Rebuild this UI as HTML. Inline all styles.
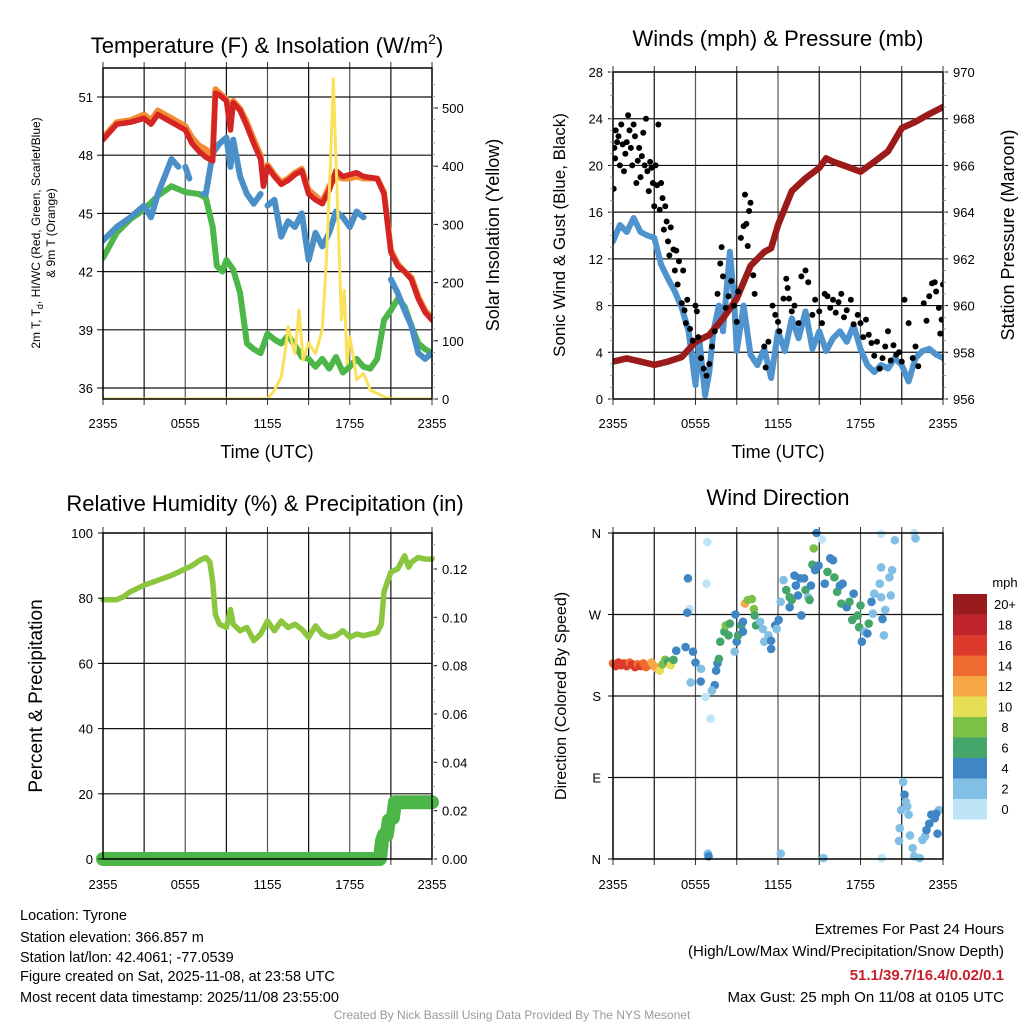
<!DOCTYPE html>
<html><head><meta charset="utf-8"><style>
html,body{margin:0;padding:0;background:#fff}
svg{display:block;font-family:"Liberation Sans",Arial,sans-serif}
</style></head><body>
<svg id="s" width="1024" height="1024" viewBox="0 0 1024 1024" xmlns="http://www.w3.org/2000/svg">
<rect width="1024" height="1024" fill="#fff"/>
<g id="layer"></g>
<text x="267" y="53" font-size="22" text-anchor="middle">Temperature (F) &amp; Insolation (W/m<tspan font-size="14" dy="-9">2</tspan><tspan dy="9">)</tspan></text>
<text x="778" y="46" font-size="22" text-anchor="middle">Winds (mph) &amp; Pressure (mb)</text>
<text x="265" y="511" font-size="22" text-anchor="middle">Relative Humidity (%) &amp; Precipitation (in)</text>
<text x="778" y="505" font-size="22" text-anchor="middle">Wind Direction</text>
<text x="267" y="458" font-size="18" text-anchor="middle">Time (UTC)</text>
<text x="778" y="458" font-size="18" text-anchor="middle">Time (UTC)</text>
<text transform="translate(40,233) rotate(-90)" font-size="12" text-anchor="middle">2m T, T<tspan font-size="9" dy="3">d</tspan><tspan dy="-3">, HI/WC (Red, Green, Scarlet/Blue)</tspan></text>
<text transform="translate(55,233) rotate(-90)" font-size="12" text-anchor="middle">&amp; 9m T (Orange)</text>
<text transform="translate(499,235) rotate(-90)" font-size="18" text-anchor="middle">Solar Insolation (Yellow)</text>
<text transform="translate(565,235) rotate(-90)" font-size="17" text-anchor="middle">Sonic Wind &amp; Gust (Blue, Black)</text>
<text transform="translate(1014,235) rotate(-90)" font-size="18" text-anchor="middle">Station Pressure (Maroon)</text>
<text transform="translate(42,696) rotate(-90)" font-size="19" text-anchor="middle">Percent &amp; Precipitation</text>
<text transform="translate(566,696) rotate(-90)" font-size="16" text-anchor="middle">Direction (Colored By Speed)</text>
<g font-size="14.5">
<text x="20" y="920">Location: Tyrone</text>
<text x="20" y="942">Station elevation: 366.857 m</text>
<text x="20" y="962">Station lat/lon: 42.4061; -77.0539</text>
<text x="20" y="981">Figure created on Sat, 2025-11-08, at 23:58 UTC</text>
<text x="20" y="1002">Most recent data timestamp: 2025/11/08 23:55:00</text>
</g>
<g font-size="15" text-anchor="end">
<text x="1004" y="934">Extremes For Past 24 Hours</text>
<text x="1004" y="956">(High/Low/Max Wind/Precipitation/Snow Depth)</text>
<text x="1004" y="980" fill="#c8202a" font-weight="bold">51.1/39.7/16.4/0.02/0.1</text>
<text x="1004" y="1002">Max Gust: 25 mph On 11/08 at 0105 UTC</text>
</g>
<text x="512" y="1019" font-size="12" fill="#999" text-anchor="middle">Created By Nick Bassill Using Data Provided By The NYS Mesonet</text>
</svg>
<script>
const tempHours=[0,1,2,3,3.5,4,5,6,6.5,7,7.5,8,8.2,8.5,9,9.3,9.5,10,10.5,11,11.5,11.7,12,12.5,13,13.5,14,14.5,15,15.5,16,16.5,17,17.5,18,18.5,19,20,20.5,21,21.5,22,22.5,23,23.5,24];
const tempRed=[48.8,49.6,49.7,49.9,49.6,50.1,49.7,49.3,48.6,48.2,47.9,47.7,51.2,51.1,50.8,49.3,50.7,50.3,49.5,48.6,47.8,46.4,47.4,46.9,46.5,46.7,47.0,47.2,46.0,45.7,45.5,46.2,47.2,46.9,47.0,47.1,46.9,46.8,46.0,43.0,42.3,42.0,41.6,40.6,39.9,39.5];
const temp9mOrange=[48.9,49.7,49.8,50.1,49.8,50.3,49.9,49.5,48.9,48.5,48.3,48.0,51.4,51.2,50.9,49.6,50.8,50.4,49.7,48.8,48.0,46.7,47.5,47.0,46.6,46.8,47.1,47.3,46.2,45.9,45.6,46.4,46.9,46.8,46.8,46.9,46.8,46.8,46.1,43.1,42.4,42.0,41.7,40.7,40.0,39.6];
const hiwcHours=[0,1,2,3,3.5,4,5,5.5,5.7,6,6.3,6.5,7.3,7.5,8,8.5,9,9.3,9.5,10,10.5,11,11.5,11.7,12,12.5,13,13.5,14,14.5,15,15.5,16,16.5,17,17.5,18,18.5,19,19.2,20.7,21,21.5,22,22.5,23,23.5,24];
const hiwcBlue=[43.6,44.3,44.8,45.4,44.8,46.0,47.8,47.4,null,47.4,46.8,null,46.0,46.0,48.1,48.6,48.9,47.4,48.8,46.9,46.0,45.5,46.0,null,45.4,45.7,43.8,44.6,44.3,45.0,42.6,44.0,43.3,44.0,45.1,44.8,44.3,45.1,44.8,null,null,41.6,40.9,40.0,39.2,37.8,37.5,37.8];
const dewHours=[0,1,2,3,4,5,6,7,7.5,8,8.3,8.7,9,9.5,10,10.5,11,11.5,12,12.5,13,13.5,14,14.5,15,15.5,16,16.5,17,17.5,18,18.5,19,19.5,20,20.5,21,21.5,22,22.5,23,23.5,24];
const dewGreen=[42.7,44.0,44.7,45.2,45.9,46.4,46.1,46.0,45.8,44.3,42.3,42.0,42.6,42.1,40.9,38.3,38.0,37.8,38.8,38.5,38.3,38.7,38.2,37.6,37.5,37.1,37.5,37.0,37.6,36.8,37.1,37.5,37.1,37.0,37.5,39.5,40.0,40.6,40.2,39.2,38.3,38.0,37.8];
const solarHours=[0,12,12.5,13,13.3,13.5,14,14.3,14.6,15,15.5,16,16.3,16.6,16.8,17,17.2,17.4,17.6,17.8,18,18.3,18.5,19,19.5,20,20.5,21,24];
const solarVals=[0,0,15,38,84,124,78,153,67,96,78,119,239,411,550,411,268,136,187,61,107,67,33,44,15,10,4,0,0];
const tempTicks=[36,39,42,45,48,51];
const solarTicks=[0,100,200,300,400,500];
const timeTickLabels=["2355","0555","1155","1755","2355"];
const presHours=[0,1,2,3,4,5,6,7,8,9,10,10.5,11,11.5,12,13,14,15,15.5,16,17,18,19,20,21,22,23,24];
const presVals=[957.6,957.74,957.6,957.46,957.6,957.8,958.45,958.74,959.45,960.3,961.7,962.0,962.3,962.45,963.45,964.9,965.45,965.9,966.3,966.16,965.95,965.73,966.16,966.6,967.6,967.87,968.2,968.5];
const windHours=[0,0.5,1,1.5,2,2.5,3,3.5,4,4.5,5,5.5,6,6.3,6.7,7,7.3,7.7,8,8.5,8.8,9,9.5,10,10.5,11,11.5,12,12.5,13,13.5,14,14.5,15,15.5,16,16.5,17,17.5,18,18.5,19,19.5,20,20.5,21,21.5,22,22.5,23,23.5,24];
const windVals=[13.5,14.9,14.3,15.5,14.3,14,13.8,11.5,10.3,9.2,7.8,5.8,1.2,4.9,0.3,2.3,5.8,8.0,5.8,12.6,8.6,4.1,8.0,3.8,2.9,4.3,1.8,5.8,4.1,6.9,5.2,7.5,4.3,5.8,4.1,5.2,5.8,4.9,6.3,4.3,2.9,2.3,2.9,2.6,3.5,2.9,1.5,3.5,4.1,4.3,3.8,3.5];
const gustHours=[0.05,0.1,0.15,0.2,0.3,0.4,0.5,0.6,0.7,0.8,0.9,1.0,1.1,1.2,1.3,1.4,1.5,1.6,1.7,1.8,1.9,2.0,2.1,2.2,2.3,2.4,2.5,2.6,2.7,2.8,2.9,3.0,3.1,3.2,3.3,3.4,3.5,3.6,3.7,3.8,3.9,4.0,4.1,4.2,4.4,4.5,4.6,4.7,4.8,5.0,5.1,5.2,5.3,5.4,5.6,5.8,6.0,6.1,6.2,6.4,6.6,6.8,7.0,7.2,7.4,7.6,7.8,7.9,8.0,8.2,8.4,8.6,8.8,9.0,9.1,9.3,9.5,9.6,9.7,9.8,9.9,10.0,10.2,10.3,11.0,11.1,11.3,11.6,11.8,12.0,12.1,12.4,12.6,12.7,12.8,13.0,13.2,13.5,13.7,14.0,14.2,14.5,14.7,15.0,15.2,15.4,15.6,15.8,16.0,16.2,16.4,16.6,16.8,17.0,17.3,17.5,17.8,18.0,18.2,18.4,18.6,18.8,19.0,19.2,19.4,19.6,19.8,20.0,20.2,20.4,20.6,20.8,21.0,21.2,21.5,21.8,22.0,22.2,22.6,22.8,23.0,23.2,23.4,23.5,23.7,23.8,23.9,24.0];
const gustVals=[18,21.5,20.6,23,22,22.5,20,23.5,21.8,19.5,21,22,24.3,23,21.5,20,23.5,22.5,18.5,20.4,21.5,19,20.8,22.8,20,24,19.5,17.8,20.3,19.8,18.5,16.5,20,18.3,23.5,16.2,18.5,17.2,14.5,16.5,15.2,13.5,12.3,14.7,12.8,11,12.7,9.8,11.8,8.2,11,7.6,6.5,8.5,6,5,8,7.5,5.3,3.5,2.6,2,3,4.5,5.8,9,11.6,13,10.5,7.8,8.8,10.1,8,6.6,9.2,13.8,14.8,17.5,15,13.1,16.1,16.8,10.6,9,4.5,2.7,4.9,8,7.2,6.6,5.8,8.6,10.3,9.5,8.6,7.5,8,6.5,10.5,11,10,7.2,8.5,7.5,6.5,9,8.8,7.8,8.5,7.4,8.3,9,7,7.6,8.5,6.4,7.2,6.5,5.3,6.8,5.5,4.8,3.7,4.9,2.6,3.5,4.5,5.8,3.3,4.6,3.8,4,3.2,8.5,6.5,3.5,4.5,2.8,8.2,6.7,8.8,9.9,10,9.2,7.8,5.6,6.8,9.8];
const windTicks=[0,4,8,12,16,20,24,28];
const presTicks=[956,958,960,962,964,966,968,970];
const rhHours=[0,1,1.5,2,3,4,5,6,6.5,7,7.5,7.8,8,8.2,8.5,9,9.3,9.5,10,10.5,11,11.5,12,12.5,13,13.5,14,14.5,15,15.5,16,16.5,17,17.5,18,18.5,19,19.5,20,20.3,20.5,21,21.5,22,22.3,22.5,23,23.5,24];
const rhVals=[79.5,79.5,80.5,82,84,85.5,87,89,90,91.5,92.5,91,85,75,72,71,76.5,72,70,71,67,69,73,70,73,71,72,70.5,68,71.5,69,68,68.5,70,68,69,68.5,69,69.5,72,82,88,89,93,89.5,91,92.5,92,92];
const precipHours=[0,20.2,20.35,20.5,20.7,20.85,21.0,21.15,21.3,22,23,24];
const precipVals=[0,0,0.0075,0.01,0.01,0.016,0.0165,0.017,0.0235,0.0235,0.0235,0.0235];
const rhTicks=[0,20,40,60,80,100];
const precipTicks=[0,0.02,0.04,0.06,0.08,0.10,0.12];
const dirHours=[0,0.2,0.4,0.6,0.8,1.0,1.2,1.4,1.6,1.8,2.0,2.2,2.4,2.6,2.8,3.0,3.2,3.4,3.6,3.8,4.0,4.2,4.4,4.6,5.45,6.86,6.8,5.57,5.4,5.28,5.82,6.0,6.4,5.65,6.38,6.72,7.1,7.4,7.2,7.5,7.6,7.7,7.8,8.1,8.2,8.4,8.5,8.85,9.0,9.1,9.33,9.45,8.9,9.45,9.6,9.8,10.1,10.25,10.3,10.4,10.7,10.9,11.0,11.3,11.5,11.5,11.8,11.9,12.05,12.2,12.4,12.6,12.85,12.85,13.0,13.2,13.3,13.45,13.6,13.7,13.9,14.0,14.2,14.3,14.4,14.5,14.6,14.7,14.8,14.95,15.2,15.3,15.4,15.6,15.8,16.0,16.1,16.3,16.5,16.7,16.6,17.0,17.2,17.5,17.4,17.8,18.0,17.9,18.1,18.3,18.5,18.6,18.8,18.9,19.0,19.4,19.5,19.6,19.7,19.8,20.2,20.3,20.5,19.5,19.5,20.1,21.9,22.0,21.1,21.2,21.3,21.4,21.5,20.95,20.85,20.8,21.6,21.8,21.9,22.3,22.5,22.7,22.8,23.0,23.15,23.4,23.6,23.7,23.5,6.9,6.95,12.2,19.55];
const dirDeg=[216,213,217,214,216,213,217,215,212,215,213,216,212,214,217,213,210,208,215,220,218,214,220,230,310,350,304,276,272,234,229,217,210,195,196,179,155,192,186,208,216,221,240,251,258,247,260,229,240,247,258,262,270,251,282,286,287,276,269,258,262,254,240,247,241,232,258,254,264,284,308,297,289,278,286,313,302,291,310,269,310,297,289,286,302,325,343,319,360,324,353,1,304,317,332,330,311,295,302,304,282,278,284,293,264,269,280,256,240,251,249,260,284,271,293,304,289,265,247,275,291,319,352,359,322,311,360,354,85,71,63,58,49,54,34,20,26,12,3,1,21,25,32,39,49,45,28,54,50,6,3,6,1];
const dirSpeed=[15,17,16,17,16,17,15,17,16,15,16,15,14,15,13,12,12,11,9,9,7,10,7,5,5,1,1,1,5,5,5,5,3,3,5,1,1,5,3,5,5,7,7,7,9,7,7,3,5,7,7,5,5,5,13,9,9,9,7,7,3,3,3,3,5,5,5,3,5,3,3,7,7,5,7,5,5,5,5,5,5,7,3,7,5,7,9,5,5,5,1,3,5,7,5,5,7,7,5,5,7,5,7,5,7,7,7,7,5,3,5,7,5,3,3,3,3,5,3,3,3,3,3,1,3,3,1,3,3,5,3,3,3,3,3,3,3,3,3,3,3,3,5,5,5,5,5,3,5,3,5,3,1,5,1,5];
const dirTicks=["N","E","S","W","N"];
const speedBins=[0,2,4,6,8,10,12,14,16,18,20];
const speedLabels=["0","2","4","6","8","10","12","14","16","18","20+"];
const speedColors=["#bde4f7","#82bfe5","#3e87c4","#45a66c","#7cc046","#e6df55","#f7a646","#ee6a2e","#db3a2c","#c0242b","#9a1b1e"];

const NS="http://www.w3.org/2000/svg";
const layer=document.getElementById('layer');
function mk(tag,attrs,parent){const e=document.createElementNS(NS,tag);for(const k in attrs)e.setAttribute(k,attrs[k]);(parent||layer).appendChild(e);return e;}
function lin(d0,d1,r0,r1){return v=>r0+(v-d0)*(r1-r0)/(d1-d0);}
function txt(x,y,s,size,anchor,parent){const t=mk('text',{x:x,y:y,'font-size':size,'text-anchor':anchor||'middle'},parent);t.textContent=s;return t;}
function frame(name){
  const g=mk('g',{});
  
  
  return g;
}
function grid(g,x0,y0,x1,y1,yPix){
  const xs=lin(0,24,x0,x1);
  for(let h=3;h<24;h+=3){mk('line',{x1:xs(h),x2:xs(h),y1:y0,y2:y1,stroke:(h%6===0)?'#555':'#111','stroke-width':1.2},g);}
  for(let h=0;h<=24;h+=3){mk('line',{x1:xs(h),x2:xs(h),y1:y0-6,y2:y0,stroke:'#333','stroke-width':1},g);mk('line',{x1:xs(h),x2:xs(h),y1:y1,y2:y1+6,stroke:'#333','stroke-width':1},g);}
  yPix.forEach(y=>mk('line',{x1:x0,x2:x1,y1:y,y2:y,stroke:'#111','stroke-width':1.2},g));
}
function border(g,x0,y0,x1,y1){mk('rect',{x:x0,y:y0,width:x1-x0,height:y1-y0,fill:'none',stroke:'#000','stroke-width':1.5},g);}
function xLabels(g,x0,x1,y){const xs=lin(0,24,x0,x1);timeTickLabels.forEach((l,i)=>txt(xs(i*6),y,l,13,'middle',g));}
function path(hours,vals,xs,ys,color,w,g,name){
  let d='',pen=false;
  for(let i=0;i<hours.length;i++){const v=vals[i];if(v===null||v===undefined){pen=false;continue;}
    d+=(pen?'L':'M')+xs(hours[i]).toFixed(1)+','+ys(v).toFixed(1);pen=true;}
  const p=mk('path',{d:d,fill:'none',stroke:color,'stroke-width':w,'stroke-linejoin':'round','stroke-linecap':'round'},g);
  
  
  return p;
}

(function(){
  const x0=103,x1=432,y0=68,y1=399;
  const xs=lin(0,24,x0,x1), yT=lin(36,51,388,97), yS=lin(0,500,399,108);
  const g=frame('temperature-panel');
  grid(g,x0,y0,x1,y1,tempTicks.map(yT));
  const cp=mk('clipPath',{id:'c1'});mk('rect',{x:x0,y:y0,width:x1-x0,height:y1-y0},cp);
  const cg=mk('g',{'clip-path':'url(#c1)'},g);
  path(dewHours,dewGreen,xs,yT,'#4cb648',6,cg,'dewpoint-line');
  path(hiwcHours,hiwcBlue,xs,yT,'#4a8fc8',6,cg,'heat-index-line');
  path(tempHours,temp9mOrange,xs,yT,'#f38b33',6,cg,'temp-9m-line');
  path(tempHours,tempRed,xs,yT,'#d42424',5.5,cg,'temp-2m-line');
  path(solarHours,solarVals,xs,yS,'#f9e15a',3,cg,'solar-line');
  border(g,x0,y0,x1,y1);
  tempTicks.forEach(v=>{txt(x0-10,yT(v)+5,String(v),13,'end',g);mk('line',{x1:x0-6,x2:x0,y1:yT(v),y2:yT(v),stroke:'#000'},g);});
  solarTicks.forEach(v=>{txt(x1+10,yS(v)+5,String(v),13,'start',g);mk('line',{x1:x1,x2:x1+6,y1:yS(v),y2:yS(v),stroke:'#000'},g);});
  for(let v=0;v<=550;v+=20){mk('line',{x1:x1,x2:x1+3,y1:yS(v),y2:yS(v),stroke:'#888','stroke-width':0.8},g);}
  xLabels(g,x0,x1,428);
})();

(function(){
  const x0=613,x1=943,y0=72,y1=399;
  const xs=lin(0,24,x0,x1), yW=lin(0,28,399,72), yP=lin(956,970,399,72);
  const g=frame('winds-panel');
  grid(g,x0,y0,x1,y1,windTicks.slice(1,-1).map(yW));
  const cp=mk('clipPath',{id:'c2'});mk('rect',{x:x0,y:y0,width:x1-x0,height:y1-y0},cp);
  const cg=mk('g',{'clip-path':'url(#c2)'},g);
  path(windHours,windVals,xs,yW,'#4f93cf',6,cg,'sonic-wind-line');
  path(presHours,presVals,xs,yP,'#9b1b1b',6.5,cg,'pressure-line');
  gustHours.forEach((h,i)=>{
    const c=mk('circle',{cx:xs(h),cy:yW(gustVals[i]),r:3,fill:'#000'},cg);
    
    
  });
  border(g,x0,y0,x1,y1);
  windTicks.forEach(v=>{txt(x0-10,yW(v)+5,String(v),13,'end',g);mk('line',{x1:x0-5,x2:x0,y1:yW(v),y2:yW(v),stroke:'#000'},g);});
  presTicks.forEach(v=>{txt(x1+10,yP(v)+5,String(v),13,'start',g);mk('line',{x1:x1,x2:x1+5,y1:yP(v),y2:yP(v),stroke:'#000'},g);});
  for(let v=956;v<=970;v+=0.5){mk('line',{x1:x1,x2:x1+3,y1:yP(v),y2:yP(v),stroke:'#888','stroke-width':0.8},g);}
  for(let v=0;v<=28;v+=1){mk('line',{x1:x0-3,x2:x0,y1:yW(v),y2:yW(v),stroke:'#888','stroke-width':0.8},g);}
  xLabels(g,x0,x1,428);
})();

(function(){
  const x0=103,x1=432,y0=533,y1=859;
  const xs=lin(0,24,x0,x1), yR=lin(0,100,859,533), yQ=lin(0,0.12,859,569);
  const g=frame('humidity-panel');
  grid(g,x0,y0,x1,y1,rhTicks.slice(1,-1).map(yR));
  const cp=mk('clipPath',{id:'c3'});mk('rect',{x:x0-8,y:y0,width:x1-x0+16,height:y1-y0+10},cp);
  const cg=mk('g',{'clip-path':'url(#c3)'},g);
  path(rhHours,rhVals,xs,yR,'#8cc63f',5.5,cg,'humidity-line');
  path(precipHours,precipVals,xs,yQ,'#4cb648',14,cg,'precip-line');
  border(g,x0,y0,x1,y1);
  rhTicks.forEach(v=>{txt(x0-10,yR(v)+5,String(v),13,'end',g);mk('line',{x1:x0-5,x2:x0,y1:yR(v),y2:yR(v),stroke:'#000'},g);});
  precipTicks.forEach(v=>{txt(x1+10,yQ(v)+5,v.toFixed(2),13,'start',g);mk('line',{x1:x1,x2:x1+5,y1:yQ(v),y2:yQ(v),stroke:'#000'},g);});
  for(let v=0;v<=0.134;v+=0.005){mk('line',{x1:x1,x2:x1+3,y1:yQ(v),y2:yQ(v),stroke:'#888','stroke-width':0.8},g);}
  xLabels(g,x0,x1,889);
})();

(function(){
  const x0=613,x1=943,y0=533,y1=859;
  const xs=lin(0,24,x0,x1), yD=lin(0,360,859,533);
  const g=frame('wind-direction-panel');
  grid(g,x0,y0,x1,y1,[90,180,270].map(yD));
  function col(s){let k=0;for(let i=0;i<speedBins.length;i++){if(s>=speedBins[i])k=i;}return speedColors[k];}
  dirHours.forEach((h,i)=>{
    const c=mk('circle',{cx:xs(h),cy:yD(dirDeg[i]),r:4.3,fill:col(dirSpeed[i])},g);
    
    
  });
  border(g,x0,y0,x1,y1);
  dirTicks.forEach((l,i)=>{txt(x0-12,yD(i*90)+5,l,13,'end',g);mk('line',{x1:x0-5,x2:x0,y1:yD(i*90),y2:yD(i*90),stroke:'#000'},g);});
  xLabels(g,x0,x1,889);
  const lg=mk('g',{});
  
  
  txt(1005,587,'mph',13,'middle',lg);
  const top=594,bh=20.5;
  for(let i=0;i<speedColors.length;i++){
    const idx=speedColors.length-1-i;
    mk('rect',{x:953,y:top+i*bh,width:34,height:bh,fill:speedColors[idx]},lg);
    txt(1005,top+i*bh+15,speedLabels[idx],13,'middle',lg);
  }
})();
</script>
</body></html>
